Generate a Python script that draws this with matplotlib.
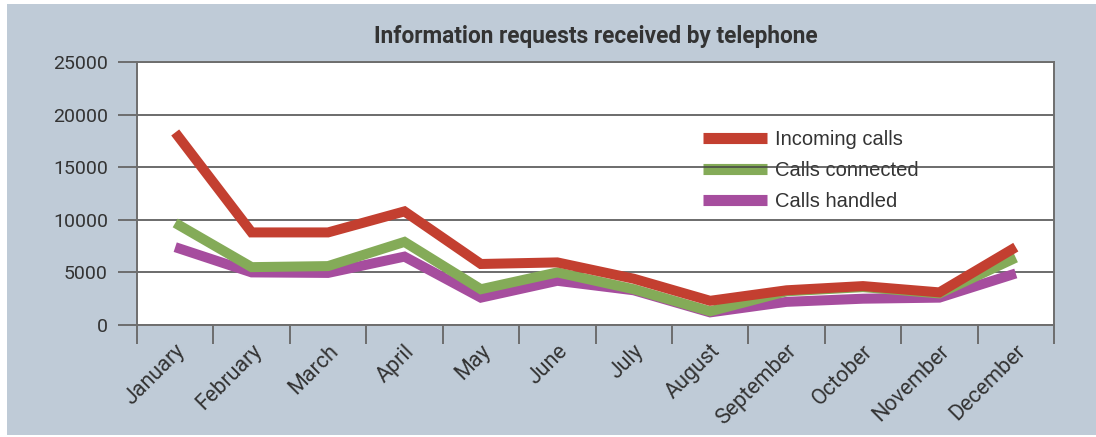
import matplotlib
matplotlib.use("Agg")
import matplotlib.pyplot as plt
from matplotlib.patches import Rectangle
from matplotlib.transforms import ScaledTranslation

# data
months = ["January", "February", "March", "April", "May", "June", "July",
          "August", "September", "October", "November", "December"]
incoming = [18300, 8800, 8800, 10800, 5800, 5950, 4400, 2300, 3300, 3700, 3100, 7400]
connected = [9700, 5500, 5600, 7900, 3400, 5000, 3400, 1300, 3200, 3600, 3000, 6400]
handled = [7400, 5000, 4950, 6500, 2600, 4200, 3300, 1200, 2200, 2500, 2600, 4900]

bg = "#bfcbd7"
txt = "#333333"
cond = dict(family=["Roboto", "DejaVu Sans"])

fig = plt.figure(figsize=(10.96, 4.37), dpi=100)
fig.patches.append(Rectangle((7 / 1096, 2 / 437), 1, 1 - 6 / 437,
                             transform=fig.transFigure, facecolor=bg,
                             edgecolor="none", zorder=-10))
ax = fig.add_axes([137 / 1096, 1 - 325 / 437, 917 / 1096, 263 / 437])
ax.set_facecolor("white")

x = range(len(months))
kw = dict(lw=7.2, solid_joinstyle="miter", solid_capstyle="butt")
ax.plot(x, handled, color="#a64d9e", label="Calls handled", zorder=2, **kw)
ax.plot(x, connected, color="#84ab58", label="Calls connected", zorder=2.1, **kw)
ax.plot(x, incoming, color="#c33f30", label="Incoming calls", zorder=2.2, **kw)

ax.set_xlim(-0.5, 11.5)
ax.set_ylim(0, 25000)
ax.set_yticks(range(0, 25001, 5000))
ax.set_xticks([])
ax.set_xticks([i - 0.5 for i in range(13)], minor=True)
ax.set_yticklabels([str(v) for v in range(0, 25001, 5000)], color=txt, fontsize=14, **cond)

# month labels, rotated, placed below the category centres
lab_tr = ax.get_xaxis_transform() + ScaledTranslation(7 / 100, -23 / 100, fig.dpi_scale_trans)
for i, m in enumerate(months):
    ax.text(i, 0, m, transform=lab_tr, rotation=45, ha="right", va="center",
            rotation_mode="anchor", color=txt, fontsize=15.5, clip_on=False, **cond)

ax.tick_params(axis="x", which="minor", length=14, width=1.3, color="#666666", direction="out")
ax.tick_params(axis="y", length=14, width=1.3, color="#666666", pad=7)

ax.grid(axis="y", color="#444444", lw=1.1, zorder=1.5)
for s in ax.spines.values():
    s.set_color("#6e6e6e")
    s.set_linewidth(1.4)

ax.set_title("Information requests received by telephone", fontsize=16.3,
             fontweight="bold", color=txt, pad=14, **cond)

h, l = ax.get_legend_handles_labels()
leg = ax.legend(h[::-1], l[::-1], loc="upper left", bbox_to_anchor=(0.617, 0.742),
                frameon=False, handlelength=3.2, handletextpad=0.4,
                labelspacing=0.6, borderpad=0, borderaxespad=0,
                prop={"family": "Liberation Sans", "size": 14.5})
for t in leg.get_texts():
    t.set_color(txt)
for ln in leg.get_lines():
    ln.set_linewidth(8)
    ln.set_solid_capstyle("butt")
leg.set_zorder(1)

fig.savefig("out.png", dpi=100, facecolor="white")
